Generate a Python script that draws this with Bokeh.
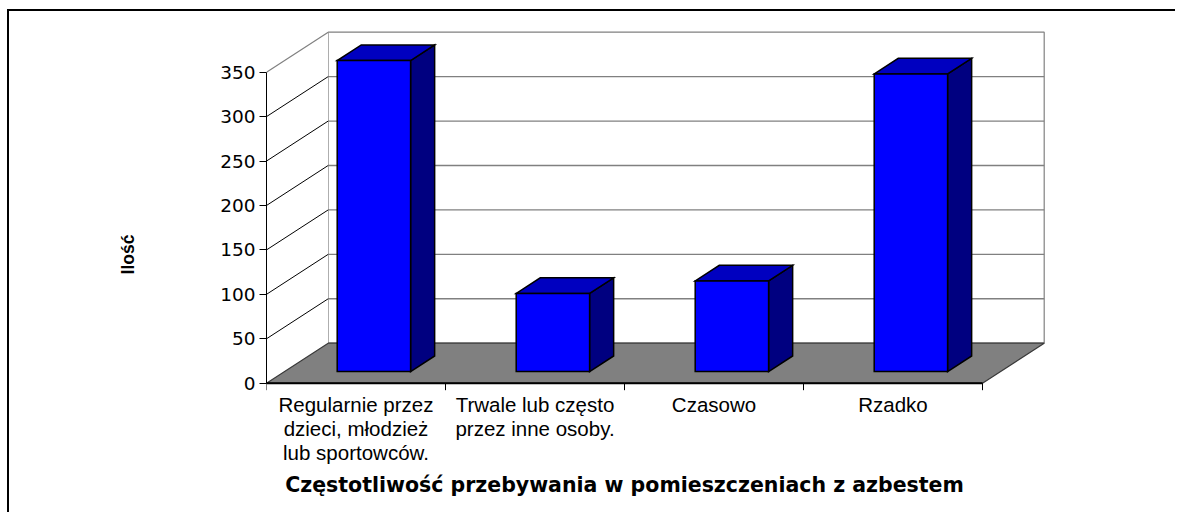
from bokeh.plotting import figure
from bokeh.models import Range1d, LinearAxis, FixedTicker, ColumnDataSource
from bokeh.core.properties import value
from bokeh.embed import file_html
from bokeh.resources import INLINE

# ---------------- data ----------------
categories = [
    "Regularnie przez\ndzieci, młodzież\nlub sportowców.",
    "Trwale lub często\nprzez inne osoby.",
    "Czasowo",
    "Rzadko",
]
counts = [350, 88, 102, 335]
y_ticks = [0, 50, 100, 150, 200, 250, 300, 350]
x_title = "Częstotliwość przebywania w pomieszczeniach z azbestem"
y_title = "Ilość"

# ---------------- layout geometry (page pixels) ----------------
W, H = 1168, 503
MARGIN_LEFT, MARGIN_TOP, BORDER = 7, 9, 2
CANVAS_X, CANVAS_Y = MARGIN_LEFT + BORDER, MARGIN_TOP + BORDER
X0, CW = 266.0, 179.0                # page x of category 0, px per category
Y0, K = 382.7, 0.8886                # page y of value 0, px per value unit
FRAME_TOP, FRAME_BOTTOM = CANVAS_Y, 497
FRAME_RIGHT = CANVAS_X + W

n = len(categories)
ymax = y_ticks[-1]
DX = 61.7 / CW        # full depth, in category units
DY = 40.0 / K         # full depth, in value units
F1, F2 = 0.29, 0.68   # bar depth (front/back) as fraction of full depth
BW = 0.41             # bar width in category units

x_start = 0.0
x_end = (FRAME_RIGHT - X0) / CW
y_end = (Y0 - FRAME_TOP) / K
y_start = (Y0 - FRAME_BOTTOM) / K

p = figure(
    width=W, height=H,
    x_range=Range1d(x_start, x_end), y_range=Range1d(y_start, y_end),
    x_axis_type=None, y_axis_type=None,
    output_backend="svg", toolbar_location=None,
    min_border_left=int(X0 - CANVAS_X), min_border_right=0,
    min_border_top=0, min_border_bottom=int(CANVAS_Y + H - FRAME_BOTTOM),
    outline_line_color=None,
    background_fill_color="white", border_fill_color="white",
    styles={"border-left": f"{BORDER}px solid black",
            "border-top": f"{BORDER}px solid black",
            "margin-top": f"{MARGIN_TOP}px", "margin-left": f"{MARGIN_LEFT}px"},
)
p.xgrid.visible = False
p.ygrid.visible = False

# ---------------- walls ----------------
# back wall
p.patch([DX, n + DX, n + DX, DX], [DY, DY, ymax + DY, ymax + DY],
        fill_color="white", line_color="#808080", line_width=1.2)
# left side wall
p.patch([0, DX, DX, 0], [0, DY, ymax + DY, ymax],
        fill_color="white", line_color=None)

inner = y_ticks[1:-1]
# back wall gridlines
p.segment(x0=[DX] * len(inner), y0=[v + DY for v in inner],
          x1=[n + DX] * len(inner), y1=[v + DY for v in inner],
          line_color="#808080", line_width=1.3)
# side wall gridlines
p.segment(x0=[0] * len(inner), y0=inner,
          x1=[DX] * len(inner), y1=[v + DY for v in inner],
          line_color="black", line_width=1)
p.segment(x0=[0], y0=[ymax], x1=[DX], y1=[ymax + DY],
          line_color="#808080", line_width=1.2)

# floor
p.patch([0, n, n + DX, DX], [0, 0, DY, DY],
        fill_color="#808080", line_color="#3a3a3a", line_width=1.2)
p.segment(x0=[0], y0=[0], x1=[n], y1=[0], line_color="black", line_width=2)
# category ticks
p.segment(x0=list(range(n + 1)), y0=[0] * (n + 1),
          x1=list(range(n + 1)), y1=[-7 / K] * (n + 1),
          line_color="black", line_width=1)

# ---------------- bars ----------------
fx, fy = F1 * DX, F1 * DY
bx, by = F2 * DX, F2 * DY
front_xs, front_ys, top_xs, top_ys, side_xs, side_ys = [], [], [], [], [], []
for i, v in enumerate(counts):
    c = i + 0.5
    l, r = c - BW / 2 + fx, c + BW / 2 + fx
    b, t = fy, v + fy
    ddx, ddy = bx - fx, by - fy
    front_xs.append([l, r, r, l]); front_ys.append([b, b, t, t])
    top_xs.append([l, r, r + ddx, l + ddx]); top_ys.append([t, t, t + ddy, t + ddy])
    side_xs.append([r, r + ddx, r + ddx, r]); side_ys.append([b, b + ddy, t + ddy, t])

bars = ColumnDataSource(dict(fx=front_xs, fy=front_ys, tx=top_xs, ty=top_ys,
                             sx=side_xs, sy=side_ys))
p.patches("sx", "sy", source=bars, fill_color="#000080", line_color="black",
          line_width=1.5, line_join="miter")
p.patches("tx", "ty", source=bars, fill_color="#0000C0", line_color="black",
          line_width=1.5, line_join="miter")
p.patches("fx", "fy", source=bars, fill_color="#0000FF", line_color="black",
          line_width=1.5, line_join="miter")

# ---------------- y axis ----------------
yaxis = LinearAxis(bounds=(0, ymax), ticker=FixedTicker(ticks=y_ticks))
yaxis.axis_line_color = "black"
yaxis.axis_line_width = 1
yaxis.major_tick_out = 7
yaxis.major_tick_in = 0
yaxis.minor_tick_out = 0
yaxis.minor_tick_in = 0
yaxis.major_label_standoff = 4
yaxis.major_label_text_font = "DejaVu Sans"
yaxis.major_label_text_font_size = "18.5px"
yaxis.major_label_text_color = "black"
yaxis.axis_label = y_title
yaxis.axis_label_text_font = "Liberation Sans"
yaxis.axis_label_text_font_style = "bold"
yaxis.axis_label_text_font_size = "17.5px"
yaxis.axis_label_text_color = "black"
yaxis.axis_label_standoff = 79
p.add_layout(yaxis, "left")

# ---------------- category labels & title ----------------
p.text(x=[i + 0.5 for i in range(n)], y=[(Y0 - 392) / K] * n, text=categories,
       text_align="center", text_baseline="top",
       text_font=value("Liberation Sans"), text_font_size="20.5px",
       text_line_height=1.05, text_color="black")
p.text(x=[n / 2], y=[(Y0 - 472) / K], text=[x_title],
       text_align="center", text_baseline="top",
       text_font=value("DejaVu Sans"), text_font_style="bold",
       text_font_size="20.5px", text_color="black")

open("out.html", "w").write(file_html(p, INLINE))
